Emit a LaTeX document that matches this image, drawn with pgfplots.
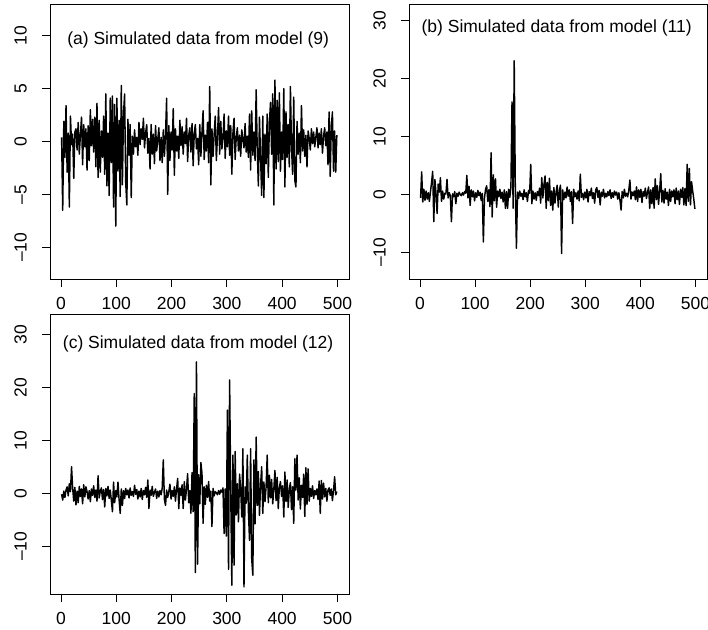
\documentclass[border=0pt]{standalone}
\usepackage{pgfplots}
\pgfplotsset{compat=1.18}
\usepackage{pgfplotstable}
\usepackage{fontspec}
\setmainfont{Liberation Sans}

% series (a): model (9), t = 1,3,...,499
\pgfplotstableread[row sep=\\]{
y\\
0.4\\ -6.5\\ 1.9\\ -1.5\\ 3.4\\ -2.9\\ 0.8\\ -6.2\\ 2.4\\ -0.3\\
0.7\\ -3.5\\ 0.9\\ 1.2\\ -0.8\\ 1.8\\ -1.2\\ 0.6\\ 2.3\\ -2.2\\
1.6\\ -0.5\\ 1.2\\ -2.7\\ 1.5\\ -1.8\\ 3.0\\ -0.4\\ 2.1\\ -1.0\\
2.3\\ -2.4\\ 3.6\\ -3.4\\ 2.0\\ -2.9\\ 1.0\\ -1.5\\ 2.4\\ -3.1\\
4.5\\ -4.2\\ 0.8\\ -5.1\\ 4.1\\ -2.0\\ 4.3\\ -6.2\\ 3.5\\ -8.0\\
4.1\\ -2.8\\ 2.0\\ -5.2\\ 5.3\\ -4.1\\ 2.6\\ 4.5\\ -3.9\\ -6.0\\
2.1\\ -1.3\\ 1.6\\ -5.3\\ 0.5\\ -1.2\\ 1.1\\ -0.5\\ 0.4\\ -1.3\\
1.8\\ -0.3\\ 1.2\\ 0.2\\ 2.2\\ -0.6\\ 0.8\\ 1.6\\ -1.1\\ 0.3\\
-2.6\\ 1.6\\ -1.2\\ 0.7\\ -2.1\\ 1.5\\ -0.9\\ 0.2\\ 1.3\\ -1.8\\
0.4\\ -2.0\\ 1.1\\ -1.4\\ 0.6\\ 4.1\\ -5.0\\ 1.5\\ -1.8\\ 0.9\\
-0.8\\ 3.1\\ -3.2\\ 1.2\\ -0.9\\ 0.5\\ -1.6\\ 2.0\\ -0.4\\ 1.4\\
-1.2\\ 0.9\\ -0.2\\ 2.2\\ -1.9\\ 0.6\\ 1.3\\ -1.0\\ 1.7\\ -2.3\\
0.8\\ 1.6\\ -0.7\\ 0.3\\ -2.2\\ 1.6\\ -1.4\\ 0.9\\ 2.9\\ -1.7\\
0.6\\ -0.9\\ 1.8\\ -2.0\\ 5.2\\ -4.1\\ 1.2\\ -1.4\\ 0.7\\ 2.4\\
-1.8\\ 0.5\\ 3.2\\ -1.2\\ 1.9\\ -0.7\\ 0.3\\ 2.6\\ -1.6\\ 1.0\\
-0.5\\ 2.4\\ -1.3\\ 1.5\\ -3.1\\ 0.8\\ 2.2\\ -1.7\\ 0.4\\ 1.3\\
-0.9\\ 0.6\\ -1.4\\ 1.1\\ 0.2\\ -0.6\\ 1.7\\ -1.0\\ 0.5\\ -1.5\\
2.6\\ -2.7\\ 2.9\\ -1.3\\ 0.9\\ -1.8\\ 4.9\\ -0.8\\ -4.2\\ 2.3\\
-1.5\\ -5.1\\ 2.4\\ -5.3\\ 0.7\\ -2.1\\ 2.6\\ -3.4\\ 1.8\\ 3.7\\
-1.2\\ 4.5\\ -6.0\\ 5.8\\ -2.6\\ 3.9\\ -1.9\\ 4.6\\ -2.8\\ 0.9\\
-1.7\\ 5.0\\ -4.3\\ 2.8\\ -1.5\\ 1.6\\ -2.4\\ 5.2\\ -0.6\\ -3.1\\
4.2\\ -3.7\\ -4.3\\ 1.9\\ -1.2\\ 0.8\\ -2.0\\ 3.4\\ -0.9\\ 1.1\\
-1.4\\ 0.6\\ -2.4\\ 1.0\\ 0.3\\ -0.8\\ 1.2\\ -0.2\\ 0.9\\ -0.5\\
0.4\\ 1.3\\ -0.6\\ 0.8\\ -0.3\\ 1.2\\ -1.1\\ 0.5\\ 1.3\\ -0.4\\
0.9\\ -2.2\\ 2.8\\ -3.3\\ 1.4\\ 2.8\\ -2.8\\ 1.0\\ -2.9\\ 0.6\\
}\dataA

% series (b): model (11)
\pgfplotstableread[row sep=\\]{
y\\
-0.6\\ 3.9\\ -1.3\\ 0.9\\ -1.0\\ 0.6\\ -0.8\\ 0.3\\ -1.2\\ 0.5\\
2.1\\ 4.0\\ -4.7\\ 2.6\\ 0.2\\ -3.3\\ 1.8\\ 0.4\\ 2.9\\ -1.2\\
0.6\\ -0.8\\ 0.2\\ 0.1\\ 2.6\\ -0.6\\ 0.3\\ -0.2\\ -4.7\\ 0.1\\
-0.4\\ 0.5\\ -1.6\\ 0.2\\ -0.3\\ 0.4\\ 0.0\\ -0.2\\ 0.3\\ -0.1\\
0.5\\ 0.2\\ 3.3\\ -0.6\\ 1.4\\ -1.9\\ 0.8\\ -0.4\\ 0.6\\ -1.1\\
0.3\\ -0.5\\ 0.7\\ -0.2\\ 0.4\\ -1.0\\ 0.2\\ -8.2\\ -0.6\\ 0.9\\
1.5\\ -1.2\\ 0.8\\ -2.1\\ 7.2\\ -3.9\\ 3.4\\ -1.1\\ 2.7\\ -2.2\\
0.6\\ -0.4\\ 0.9\\ -0.7\\ 0.4\\ -1.3\\ 0.8\\ -2.4\\ 0.5\\ -2.4\\
0.9\\ -0.5\\ 1.3\\ 16.0\\ -2.4\\ 23.1\\ 1.0\\ -9.3\\ 0.4\\ -0.7\\
0.6\\ -0.3\\ 0.2\\ -0.9\\ 0.8\\ -0.4\\ 0.3\\ -1.2\\ 0.7\\ 0.2\\
5.2\\ -1.6\\ 0.6\\ -0.8\\ 0.3\\ -1.0\\ 0.5\\ -0.2\\ 1.1\\ -1.5\\
2.9\\ -0.6\\ 1.7\\ 3.2\\ -2.4\\ 2.1\\ -1.1\\ 2.8\\ -1.9\\ 0.6\\
-2.7\\ 1.2\\ -1.5\\ 0.4\\ 1.6\\ -2.2\\ 0.7\\ 1.6\\ -10.2\\ 0.8\\
-0.9\\ 0.4\\ -0.6\\ 1.3\\ -0.3\\ 0.8\\ -1.2\\ 0.5\\ -5.0\\ 0.9\\
-0.4\\ 0.3\\ -0.8\\ 0.6\\ -1.1\\ 3.5\\ -0.5\\ 0.2\\ -0.9\\ 0.4\\
-0.6\\ 0.9\\ -1.3\\ 0.5\\ -0.2\\ 1.1\\ -0.7\\ 0.3\\ -1.5\\ 0.8\\
1.2\\ -0.5\\ 0.7\\ -1.8\\ 0.4\\ -0.3\\ 0.9\\ -0.6\\ 0.2\\ -0.4\\
0.5\\ -0.2\\ 0.8\\ -0.7\\ 0.3\\ -0.5\\ 0.6\\ -0.1\\ 0.4\\ -0.8\\
0.3\\ -1.0\\ -2.7\\ 0.5\\ -0.6\\ 0.9\\ -0.3\\ 0.2\\ -0.4\\ 0.7\\
2.5\\ -0.8\\ 0.4\\ -0.2\\ 0.6\\ -0.9\\ 1.3\\ -1.2\\ 0.8\\ -0.5\\
0.9\\ -1.4\\ 0.5\\ -0.3\\ 1.1\\ -0.7\\ 0.4\\ 1.3\\ -2.4\\ 0.8\\
-1.6\\ 1.2\\ -2.4\\ 2.7\\ -0.9\\ 1.5\\ -1.7\\ 0.6\\ 3.6\\ -1.3\\
0.7\\ -1.5\\ 1.0\\ -0.8\\ 0.4\\ -1.9\\ 0.9\\ -1.2\\ 0.6\\ -0.4\\
0.8\\ -1.6\\ 1.1\\ -0.9\\ 0.6\\ -1.7\\ 0.9\\ -0.5\\ 1.2\\ -1.8\\
1.0\\ -1.9\\ 5.2\\ -1.2\\ 4.5\\ -1.8\\ 2.2\\ 0.6\\ -0.8\\ -2.5\\
}\dataB

% series (c): model (12)
\pgfplotstableread[row sep=\\]{
y\\
-0.2\\ -1.3\\ 0.4\\ -0.8\\ 0.6\\ 1.2\\ -0.5\\ 1.8\\ 0.3\\ 5.0\\
0.9\\ -1.5\\ 1.1\\ -2.2\\ 0.4\\ -1.8\\ 1.3\\ -0.6\\ 0.8\\ -2.0\\
1.6\\ -0.7\\ 1.2\\ 0.3\\ -1.1\\ 0.5\\ -1.6\\ 0.8\\ -0.4\\ 1.4\\
-0.8\\ 0.6\\ -1.5\\ 3.3\\ -0.9\\ 0.4\\ 1.0\\ -1.2\\ 0.7\\ -2.6\\
0.9\\ -0.5\\ 1.3\\ -1.0\\ 0.6\\ -1.4\\ -3.5\\ 2.1\\ -1.8\\ 0.5\\
-0.7\\ 2.1\\ -1.2\\ -3.8\\ 0.8\\ -2.3\\ 0.5\\ -1.0\\ 0.9\\ -0.3\\
0.6\\ -0.9\\ 1.0\\ -0.4\\ 0.3\\ -0.6\\ 1.5\\ -0.2\\ 0.7\\ -1.1\\
0.4\\ -0.7\\ 0.9\\ -1.2\\ 0.5\\ -0.3\\ 1.1\\ -0.8\\ 2.5\\ -2.9\\
0.6\\ -0.4\\ 1.3\\ -0.6\\ 0.2\\ 0.8\\ -1.0\\ 0.4\\ -0.7\\ 0.5\\
-0.3\\ 0.9\\ 6.3\\ -1.2\\ -2.3\\ 0.6\\ -0.8\\ 0.3\\ 1.7\\ -1.1\\
0.5\\ -0.6\\ 1.2\\ -1.5\\ 0.8\\ 2.8\\ -2.9\\ 1.0\\ -0.4\\ 1.6\\
-2.9\\ 2.2\\ -1.3\\ 0.8\\ 3.7\\ -1.8\\ 0.5\\ -3.8\\ 3.9\\ -3.5\\
18.8\\ -15.0\\ 24.8\\ -13.4\\ 3.5\\ -2.0\\ 5.8\\ 3.7\\ -5.7\\ 1.2\\
-2.1\\ 1.5\\ -0.8\\ 2.2\\ -1.5\\ 0.4\\ -6.3\\ 0.9\\ -0.5\\ 0.3\\
0.1\\ -0.3\\ 0.5\\ -0.2\\ 0.6\\ 0.2\\ 1.0\\ -7.6\\ 0.8\\ -8.1\\
15.7\\ -14.4\\ 21.4\\ 0.5\\ -17.4\\ 7.2\\ -13.6\\ 7.9\\ -4.1\\ 1.8\\
-5.4\\ 3.6\\ 0.8\\ -4.5\\ 8.4\\ -17.7\\ 1.2\\ -1.9\\ 7.2\\ -3.5\\
-8.9\\ 8.4\\ -12.5\\ -15.5\\ 6.3\\ -5.8\\ 10.6\\ -2.3\\ 4.1\\ -4.2\\
1.5\\ 5.0\\ -3.8\\ 2.1\\ -1.6\\ 1.2\\ 7.2\\ -1.8\\ 3.4\\ -0.9\\
2.6\\ -2.0\\ 0.8\\ 4.3\\ -1.4\\ 3.0\\ -2.9\\ 1.1\\ 2.2\\ -0.6\\
1.4\\ -4.5\\ 4.0\\ -1.6\\ 2.5\\ -2.7\\ 0.8\\ 2.0\\ -3.1\\ 1.2\\
-5.7\\ 6.5\\ 0.6\\ 7.2\\ -1.3\\ 2.9\\ -3.0\\ 1.5\\ -0.8\\ 3.6\\
-4.4\\ 4.8\\ -2.1\\ 4.6\\ -1.5\\ 0.9\\ -0.6\\ 1.4\\ -1.0\\ 0.5\\
-0.3\\ 0.8\\ -1.2\\ 2.3\\ -3.8\\ 2.4\\ -1.1\\ 1.9\\ -0.7\\ 0.9\\
-1.5\\ 0.6\\ 1.0\\ -0.4\\ 0.8\\ -1.4\\ 0.5\\ 3.1\\ -0.3\\ 0.3\\
}\dataC

\pgfplotsset{
  rplot/.style={
    anchor=south west, scale only axis,
    xmin=-20, xmax=521,
    xtick={0,100,200,300,400,500},
    xticklabels={0,100,200,300,400,500},
    xtick pos=bottom, ytick pos=left,
    tick align=outside,
    major tick length=8pt,
    axis line style={line width=0.9pt},
    every tick/.style={line width=0.9pt, black},
    ticklabel style={font=\fontsize{17.5}{21}\selectfont, inner sep=0pt},
    xticklabel style={anchor=north, yshift=-10pt},
    yticklabel style={xshift=-15pt, rotate=90, anchor=south},
  },
  series/.style={black, line width=1.45pt, line join=round},
}
\tikzset{paneltitle/.style={anchor=base, font=\fontsize{17.5}{21}\selectfont}}

\begin{document}
\begin{tikzpicture}
\useasboundingbox (0,0) rectangle (708pt,629pt);

\begin{axis}[rplot, at={(50pt,350pt)}, width=299pt, height=275pt,
  ymin=-13, ymax=13, ytick={-10,-5,0,5,10},
  yticklabels={\textendash10,\textendash5,0,5,10}]
\addplot[series] table[x expr=2*\coordindex+1, y=y] {\dataA};
\node[paneltitle] at (axis cs:248,9.2) {(a) Simulated data from model (9)};
\end{axis}

\begin{axis}[rplot, at={(409pt,350pt)}, width=298pt, height=275pt,
  ymin=-14.6, ymax=32.9, ytick={-10,0,10,20,30},
  yticklabels={\textendash10,0,10,20,30}]
\addplot[series] table[x expr=2*\coordindex+1, y=y] {\dataB};
\node[paneltitle] at (axis cs:248,27.9) {(b) Simulated data from model (11)};
\end{axis}

\begin{axis}[rplot, at={(50pt,34.7pt)}, width=299pt, height=280pt,
  ymin=-19.1, ymax=33.8, ytick={-10,0,10,20,30},
  yticklabels={\textendash10,0,10,20,30}]
\addplot[series] table[x expr=2*\coordindex+1, y=y] {\dataC};
\node[paneltitle] at (axis cs:248,27.3) {(c) Simulated data from model (12)};
\end{axis}

\end{tikzpicture}
\end{document}
